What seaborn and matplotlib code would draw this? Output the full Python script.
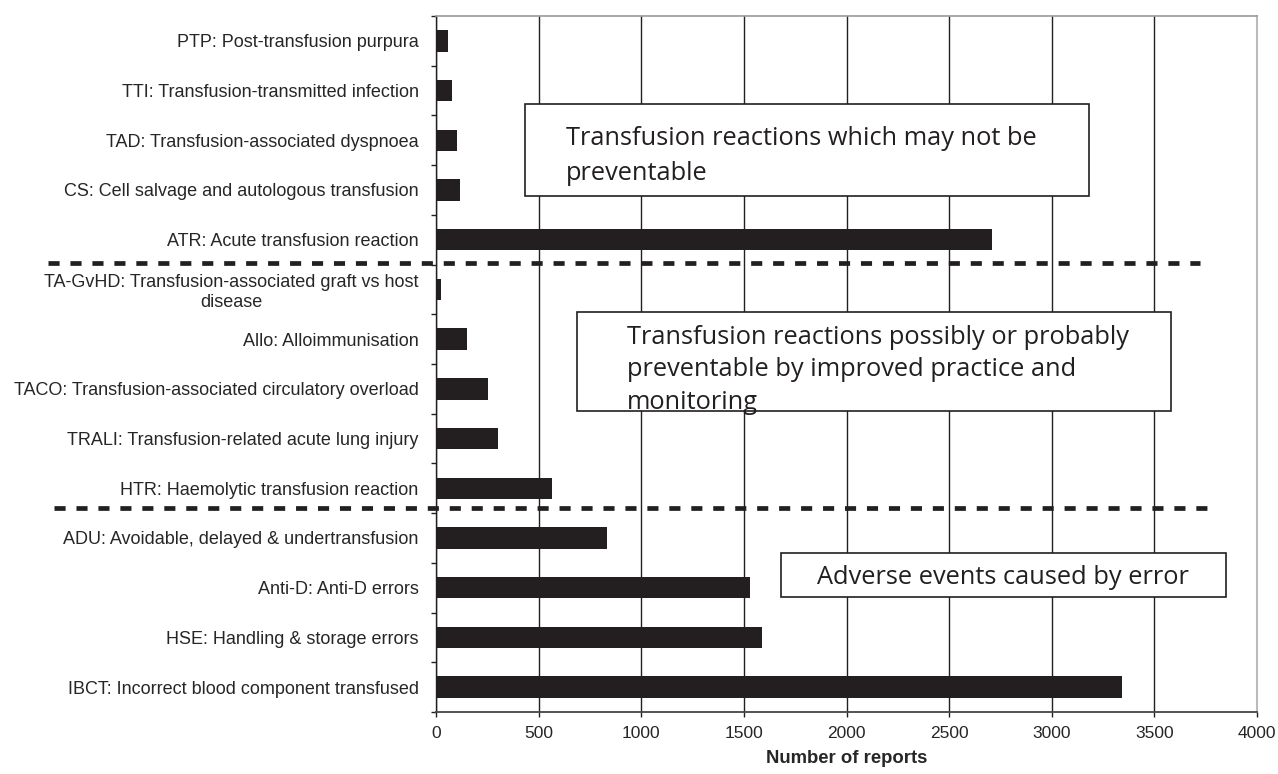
import matplotlib
matplotlib.use("Agg")
import matplotlib.pyplot as plt
import matplotlib.transforms as mtransforms
from matplotlib.lines import Line2D
import seaborn as sns
import pandas as pd
import numpy as np

categories = [
    "PTP: Post-transfusion purpura",
    "TTI: Transfusion-transmitted infection",
    "TAD: Transfusion-associated dyspnoea",
    "CS: Cell salvage and autologous transfusion",
    "ATR: Acute transfusion reaction",
    "TA-GvHD: Transfusion-associated graft vs host\ndisease",
    "Allo: Alloimmunisation",
    "TACO: Transfusion-associated circulatory overload",
    "TRALI: Transfusion-related acute lung injury",
    "HTR: Haemolytic transfusion reaction",
    "ADU: Avoidable, delayed & undertransfusion",
    "Anti-D: Anti-D errors",
    "HSE: Handling & storage errors",
    "IBCT: Incorrect blood component transfused",
]
reports = [60, 80, 100, 117, 2707, 23, 153, 254, 302, 564, 833, 1529, 1588, 3340]
x_ticks = [0, 500, 1000, 1500, 2000, 2500, 3000, 3500, 4000]
x_label = "Number of reports"
box_texts = [
    "Transfusion reactions which may not be\npreventable",
    "Transfusion reactions possibly or probably\npreventable by improved practice and\nmonitoring",
    "Adverse events caused by error",
]

sns.set_style("white")
plt.rcParams["font.family"] = ["Liberation Sans", "DejaVu Sans"]

df = pd.DataFrame({"category": categories, "reports": reports})

fig = plt.figure(figsize=(12.78, 7.74), dpi=100)
ax = fig.add_axes([436 / 1278, 1 - 712 / 774, (1257 - 436) / 1278, (712 - 16) / 774])

sns.barplot(data=df, x="reports", y="category", orient="h", color="#231f20",
            width=0.43, saturation=1, ax=ax, zorder=3, edgecolor="none")

n = len(categories)
ax.set_xlim(0, 4000)
ax.set_ylim(n - 0.5, -0.5)
ax.set_xticks(x_ticks)
ax.set_xticklabels([str(t) for t in x_ticks], fontsize=12.5,
                   family=["Liberation Sans Narrow", "Liberation Sans", "DejaVu Sans"])
ax.set_yticks(np.arange(n))
ax.set_yticklabels(categories, fontsize=13)
ax.set_yticks(np.arange(n + 1) - 0.5, minor=True)
ax.tick_params(axis="y", which="major", length=0, pad=12.5)
ax.tick_params(axis="y", which="minor", length=3.8, width=1, color="#231f20", direction="out", left=True)
ax.tick_params(axis="x", which="major", length=3.8, width=1, color="#231f20", direction="out", bottom=True, pad=6)
for lab in ax.get_yticklabels():
    if "\n" in lab.get_text():
        lab.set_multialignment("center")
ax.set_ylabel("")
ax.set_xlabel(x_label, fontsize=13.3, fontweight="bold", labelpad=7,
              family=["Liberation Sans Narrow", "Liberation Sans", "DejaVu Sans"])

ax.xaxis.grid(True, color="#231f20", linewidth=1.0, zorder=0)
ax.yaxis.grid(False)
ax.set_axisbelow(True)

ax.spines["left"].set_color("#231f20")
ax.spines["left"].set_linewidth(1.0)
ax.spines["bottom"].set_color("#444444")
ax.spines["bottom"].set_linewidth(1.3)
ax.spines["top"].set_color("#999999")
ax.spines["top"].set_linewidth(1.2)
ax.spines["right"].set_color("#bbbbbb")
ax.spines["right"].set_linewidth(1.5)

# Dashed separators spanning into the label area
trans = mtransforms.blended_transform_factory(fig.transFigure, ax.transData)
for y, x0, x1 in [(4.47, 48 / 1278, 1200 / 1278), (9.4, 54 / 1278, 1212 / 1278)]:
    ln = Line2D([x0, x1], [y, y], transform=trans, color="#231f20", linewidth=3.4,
                dashes=(2.35, 2.3), clip_on=False, zorder=5)
    fig.add_artist(ln)

# Annotation boxes (pixel rectangles converted to figure coords)
def add_box(l, t, r, b, text, tx, ty, ha="left", ls=1.35):
    rect = plt.Rectangle((l / 1278, 1 - b / 774), (r - l) / 1278, (b - t) / 774,
                         transform=fig.transFigure, facecolor="white",
                         edgecolor="#231f20", linewidth=1.2, zorder=6)
    fig.add_artist(rect)
    fig.text(tx / 1278, 1 - ty / 774, text, ha=ha, va="center", fontsize=18.3,
             family=["Open Sans", "DejaVu Sans"], color="#231f20", linespacing=ls, zorder=7)

add_box(525, 104, 1089, 196, box_texts[0], 566, 156, ls=1.57)
add_box(577, 312, 1171, 411, box_texts[1], 627, 370, ls=1.39)
add_box(781, 553, 1226, 597, box_texts[2], 1003, 577, ha="center")

fig.savefig("out.png", dpi=100, facecolor="white")
